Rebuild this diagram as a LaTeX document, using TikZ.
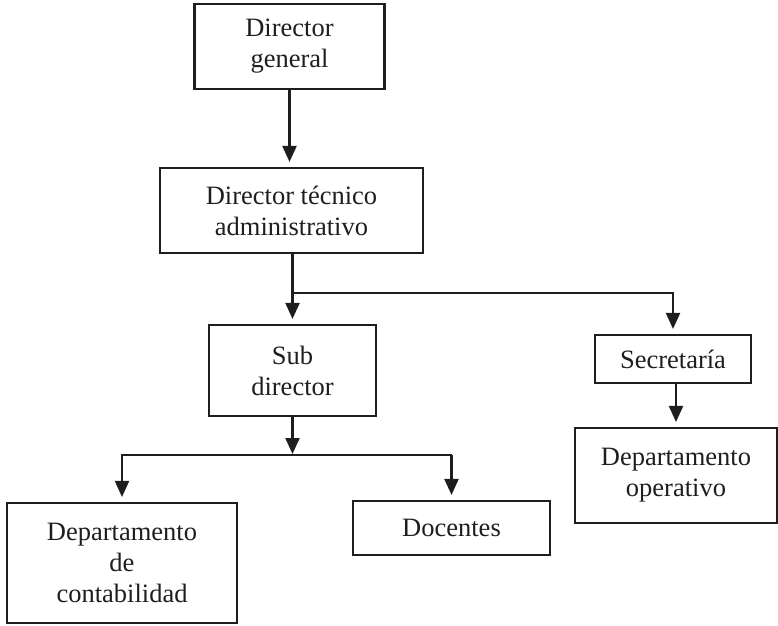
\documentclass[tikz,border=0pt]{standalone}
\usepackage{fontspec}
\setmainfont{Liberation Serif}
\usetikzlibrary{arrows.meta}
\definecolor{ink}{RGB}{30,30,30}
\tikzset{
  box/.style={draw=ink, line width=2.1pt, inner sep=0pt, align=center,
    text=ink, font=\fontsize{26.5}{31}\selectfont},
  arr/.style={draw=ink, line width=2.1pt,
    -{Triangle[width=14pt,length=16pt]}, shorten >=5pt},
  wire/.style={draw=ink, line width=2.1pt}
}
\begin{document}
\begin{tikzpicture}[x=1pt,y=-1pt]
\useasboundingbox (0,0) rectangle (778,625);

% boxes of the organisation chart
\node[box, minimum width=190pt, minimum height=85pt] (dg)  at (289.5,46.5)  {Director\\general};
\node[box, minimum width=263pt, minimum height=85pt] (dta) at (291.5,210.5) {Director técnico\\administrativo};
\node[box, minimum width=167pt, minimum height=91pt] (sub) at (292.5,370.5) {Sub\\director};
\node[box, minimum width=156pt, minimum height=48pt] (sec) at (673,359)     {Secretaría};
\node[box, minimum width=202pt, minimum height=95pt] (dop) at (676,475.5)   {Departamento\\operativo};
\node[box, minimum width=230pt, minimum height=120pt] (dcon) at (122,563)   {Departamento\\de\\contabilidad};
\node[box, minimum width=197pt, minimum height=54pt] (doc) at (451.5,528)   {Docentes};

% junction heights of the two branchings
\coordinate (busA) at (0,293);
\coordinate (busB) at (0,455);

% connectors
\draw[arr] (dg.south) -- (dg.south |- dta.north);
\draw[arr] (sub.north |- dta.south) -- (sub.north);
\draw[arr] (sub.north |- busA) -| (sec.north);
\draw[arr] (dop.north |- sec.south) -- (dop.north);
\draw[arr, shorten >=1pt] (sub.south) -- (sub.south |- busB);
\draw[arr] (doc.north |- busB) -| (dcon.north);
\draw[arr] (doc.north |- busB) -- (doc.north);
\end{tikzpicture}
\end{document}
